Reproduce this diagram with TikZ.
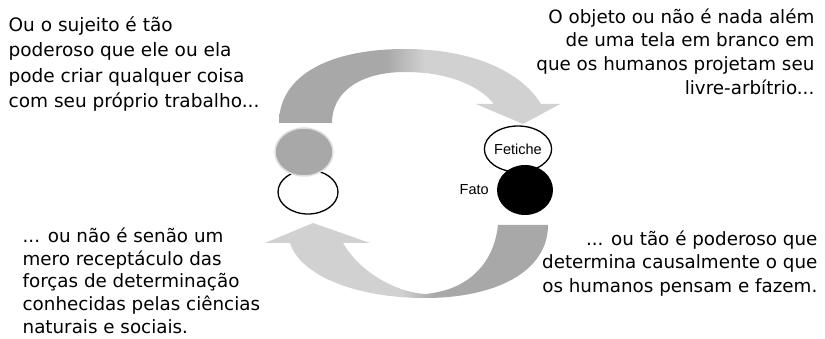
\documentclass[tikz,border=0pt]{standalone}
\usepackage{fontspec}
\setmainfont{DejaVu Sans}
\newfontfamily\arialfont{Liberation Sans}
\usetikzlibrary{shapes.geometric, positioning}

\definecolor{arcdark}{HTML}{A8A8A8}
\definecolor{arclight}{HTML}{D1D1D1}
\definecolor{rimgray}{HTML}{DEDEDE}

\pgfdeclarehorizontalshading{toparc}{100bp}{color(0bp)=(arcdark); color(44bp)=(arcdark); color(51bp)=(arclight); color(100bp)=(arclight)}
\pgfdeclarehorizontalshading{bottomarc}{100bp}{color(0bp)=(arclight); color(49bp)=(arclight); color(55bp)=(arcdark); color(100bp)=(arcdark)}

\begin{document}
\begin{tikzpicture}[%
        x = 1pt,
        y = -1pt,
        line width = 1.3pt,
        note/.style = {%
            font = \fontsize{18.3}{23.6}\selectfont,
            inner sep = 0pt
        },
        ring/.style = {%
            ellipse,
            draw = black,
            fill = white,
            inner sep = 0pt
        },
        smalltext/.style = {%
            font = \arialfont\fontsize{14.5}{16}\selectfont,
            inner sep = 0pt
        }
    ]
        \useasboundingbox (0, 0) rectangle (825, 339);
        % the two arcs
        \shade[shading = toparc]
            (279, 123) .. controls (279, 75) and (330, 49) .. (405, 49)
            .. controls (470, 49) and (520, 70) .. (541, 104)
            -- (560, 104) -- (523, 124) -- (476, 104) -- (494, 104)
            .. controls (478, 84) and (445, 72) .. (405, 72)
            .. controls (360, 72) and (332, 92) .. (332, 123) -- cycle;
        \shade[shading = bottomarc]
            (548, 225) .. controls (548, 272) and (495, 298) .. (425, 298)
            .. controls (355, 298) and (300, 275) .. (290, 243)
            -- (265, 243) -- (313, 223) -- (370, 243) -- (343, 243)
            .. controls (360, 272) and (395, 292) .. (425, 294)
            .. controls (470, 290) and (494, 262) .. (498, 225) -- cycle;
        % subject side
        \node[ring, minimum width = 60pt, minimum height = 44pt] (sujeitobase) at (308, 192) {};
        \node[%
            ellipse,
            fill = arcdark,
            draw = rimgray,
            line width = 1.5pt,
            minimum width = 58pt,
            minimum height = 48pt,
            inner sep = 0pt
        ] (sujeito) at (304, 152) {};
        % object side
        \node[ring, smalltext, minimum width = 60pt, minimum height = 46pt] (fetiche) at (518, 149) {Fetiche};
        \node[ellipse, fill = black, minimum width = 56pt, minimum height = 50pt, inner sep = 0pt] (fato) at (525, 190) {};
        \node[smalltext, left = 7pt of fato] (fatolabel) {Fato};
        % the four statements
        \node[note, font = \fontsize{18.5}{25.3}\selectfont, anchor = north west, align = left] (sujeitoforte) at (8, 16)
            {Ou o sujeito é tão\\poderoso que ele ou ela\\pode criar qualquer coisa\\com seu próprio trabalho...};
        \node[note, anchor = north east, align = right] (objetotela) at (815, 8)
            {O objeto ou não é nada além\\de uma tela em branco em\\que os humanos projetam seu\\livre-arbítrio...};
        \node[note, font = \fontsize{18.3}{22.8}\selectfont, anchor = north west, align = left] (sujeitofraco) at (22, 227)
            {... ou não é senão um\\mero receptáculo das\\forças de determinação\\conhecidas pelas ciências\\naturais e sociais.};
        \node[note, anchor = north east, align = right] (objetocausa) at (818, 230)
            {... ou tão é poderoso que\\determina causalmente o que\\os humanos pensam e fazem.};
    \end{tikzpicture}
\end{document}
